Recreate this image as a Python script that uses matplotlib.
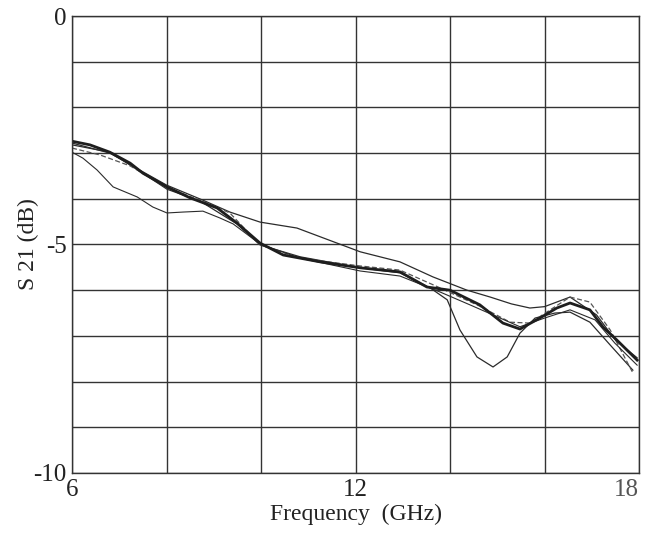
import numpy as np
import matplotlib
matplotlib.use("Agg")
import matplotlib.pyplot as plt

plt.rcParams["font.family"] = ["Liberation Serif", "DejaVu Serif"]

# main thick trace
freq_a = [6.0, 6.38, 6.8, 7.23, 7.5, 8.01, 8.5, 9.07, 9.49, 9.98, 10.47, 11.25, 12.1,
          12.94, 13.51, 14.0, 14.63, 15.12, 15.48, 15.9, 16.26, 16.54, 16.96, 17.24,
          17.53, 17.96]
s21_a = [-2.74, -2.82, -2.98, -3.22, -3.44, -3.74, -3.98, -4.2, -4.53, -4.97, -5.23,
         -5.38, -5.51, -5.6, -5.93, -6.0, -6.32, -6.72, -6.85, -6.61, -6.39, -6.28,
         -6.43, -6.81, -7.09, -7.53]

# upper thin trace
freq_b = [6.0, 6.8, 7.5, 8.0, 8.77, 9.34, 9.98, 10.76, 11.61, 12.1, 12.94, 13.64,
          14.36, 14.85, 15.3, 15.69, 16.0, 16.54, 17.1, 17.5, 17.96]
s21_b = [-2.78, -3.0, -3.41, -3.7, -4.03, -4.29, -4.51, -4.64, -4.97, -5.16, -5.38,
         -5.71, -6.0, -6.15, -6.3, -6.39, -6.36, -6.15, -6.54, -7.09, -7.48]

# thin trace with the deep notch
freq_c = [6.0, 6.8, 7.5, 8.01, 8.71, 9.49, 9.98, 10.83, 12.1, 12.94, 13.58, 13.94,
          14.21, 14.57, 14.91, 15.21, 15.48, 15.8, 16.22, 16.54, 16.96, 17.39, 17.87]
s21_c = [-2.82, -2.98, -3.44, -3.79, -4.05, -4.55, -5.01, -5.27, -5.51, -5.62,
         -5.95, -6.21, -6.87, -7.46, -7.68, -7.46, -6.94, -6.61, -6.5, -6.48, -6.7,
         -7.2, -7.75]

# dashed trace
freq_d = [6.0, 6.59, 7.23, 8.01, 8.71, 9.34, 9.98, 10.83, 12.1, 12.94, 13.79, 14.63,
          15.27, 15.69, 16.12, 16.54, 16.96, 17.39, 17.87]
s21_d = [-2.89, -3.04, -3.28, -3.76, -4.03, -4.31, -5.01, -5.3, -5.47, -5.56, -5.95,
         -6.35, -6.7, -6.72, -6.43, -6.15, -6.26, -6.87, -7.81]

# lower thin trace at start
freq_e = [6.0, 6.23, 6.53, 6.87, 7.38, 7.71, 8.01, 8.35, 8.77, 9.13, 9.41, 9.98,
          10.83, 12.1, 12.94, 13.79, 14.42, 15.06, 15.48, 16.0, 16.54, 17.07, 17.49,
          17.96]
s21_e = [-2.98, -3.11, -3.37, -3.74, -3.96, -4.18, -4.31, -4.29, -4.27, -4.42, -4.55,
         -4.99, -5.3, -5.58, -5.69, -6.04, -6.32, -6.61, -6.8, -6.61, -6.43, -6.65,
         -7.16, -7.64]

fig = plt.figure(figsize=(6.46, 5.37), dpi=100)
ax = fig.add_axes([0.1115, 0.1192, 0.8777, 0.851])

ink = "#2b2b2b"
ax.plot(freq_b, s21_b, color=ink, lw=0.9)
ax.plot(freq_c, s21_c, color=ink, lw=0.9)
ax.plot(freq_d, s21_d, color="#555555", lw=0.9, ls=(0, (4, 2)))
ax.plot(freq_e, s21_e, color=ink, lw=0.8)
ax.plot(freq_a, s21_a, color="#1e1e1e", lw=2.0)

ax.set_xlim(6, 18)
ax.set_ylim(-10, 0)
ax.set_xticks(np.arange(6, 19, 2))
ax.set_xticklabels(["6", "", "", "12", "", "", "18"])
ax.set_yticks(np.arange(-10, 1, 1))
ax.set_yticklabels(["-10", "", "", "", "", "-5", "", "", "", "", "0"])
ax.tick_params(length=0, labelsize=18, colors="#222222", pad=4)
lab18 = ax.get_xticklabels()[-1]
lab18.set_horizontalalignment("right")
lab18.set_color("#555555")
ax.grid(True, color="#333333", lw=1.0)
for sp in ax.spines.values():
    sp.set_color("#333333")
    sp.set_linewidth(1.0)

ax.set_xlabel("Frequency  (GHz)", fontsize=17, color="#222222", labelpad=2)
ax.set_ylabel("S 21 (dB)", fontsize=17, color="#222222", labelpad=-4)

fig.savefig("out.png", dpi=100)
